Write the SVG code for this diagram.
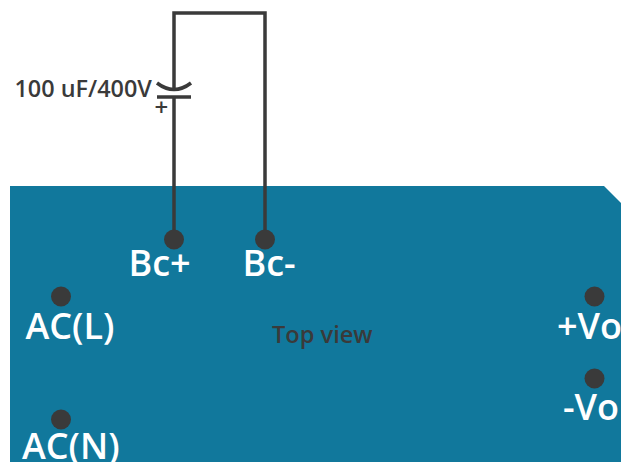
<svg xmlns="http://www.w3.org/2000/svg" width="621" height="462" viewBox="0 0 621 462">
<style>
.w{fill:none;stroke:#3a3a3a;stroke-width:3.5}
.p{fill:#3a3a3a}
.l{font-family:"Open Sans",sans-serif;font-weight:600;font-size:36px;fill:#fff}
.d{font-family:"Open Sans",sans-serif;font-weight:600;fill:#3a3a3a}
</style>
<rect width="621" height="462" fill="#fff"/>
<path id="board" d="M10 186H604L621 203V462H10Z" fill="#11789c"/>
<g id="connectors">
<path class="w" d="M174 239V97M174 89V13H265V239"/>
</g>
<g id="capacitor">
<path class="w" d="M157 97H191"/>
<path class="w" d="M157 83Q174 96 191 83"/>
<text class="d" x="14.500" y="97" font-size="23.400">100 uF/400V</text>
<text class="d" x="154.500" y="116" font-size="24">+</text>
</g>
<g id="bcplus"><circle class="p" cx="174" cy="239.500" r="10"/><text class="l" x="128.500" y="276">Bc+</text></g>
<g id="bcminus"><circle class="p" cx="265" cy="239.500" r="10"/><text class="l" x="242.500" y="276">Bc-</text></g>
<g id="acl"><circle class="p" cx="61" cy="296.500" r="10"/><text class="l" x="25.500" y="339">AC(L)</text></g>
<g id="acn"><circle class="p" cx="61" cy="419.500" r="10"/><text class="l" x="22" y="459">AC(N)</text></g>
<g id="vop"><circle class="p" cx="594.500" cy="296.500" r="10"/><text class="l" x="557" y="339">+Vo</text></g>
<g id="vom"><circle class="p" cx="594.500" cy="378.500" r="10"/><text class="l" x="563" y="420">-Vo</text></g>
<text class="d" x="272" y="343" font-size="23.600">Top view</text>
</svg>
